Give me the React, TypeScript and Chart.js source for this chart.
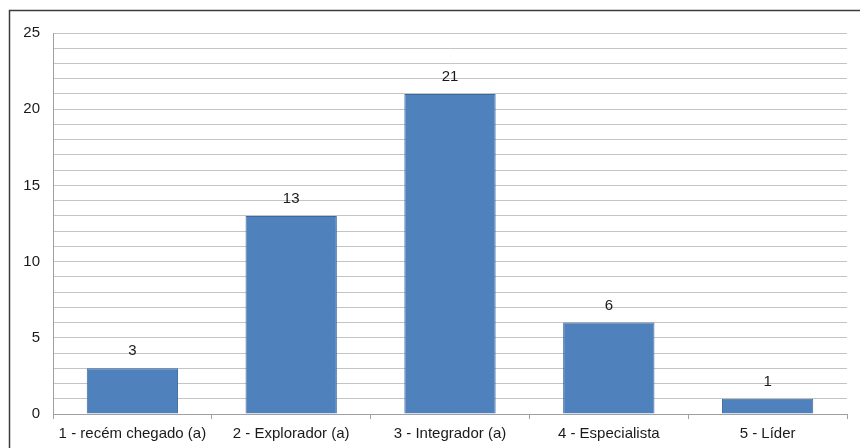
import React, { useEffect, useRef } from "react";
import { Chart, registerables } from "chart.js";

Chart.register(...registerables);

const categories = [
  "1 - recém chegado (a)",
  "2 - Explorador (a)",
  "3 - Integrador (a)",
  "4 - Especialista",
  "5 - Líder",
];
const values = [3, 13, 21, 6, 1];
const yMax = 25;
const majorStep = 5;

const FONT = "'Liberation Sans', Arial, sans-serif";
const TEXT = "#1a1a1a";

const framePlugin = {
  id: "frame",
  beforeDraw(chart: any) {
    const ctx = chart.ctx;
    ctx.save();
    ctx.fillStyle = "#ffffff";
    ctx.fillRect(0, 0, chart.width, chart.height);
    ctx.strokeStyle = "#3c3c3c";
    ctx.lineWidth = 1.5;
    ctx.beginPath();
    ctx.moveTo(9.5, chart.height + 5);
    ctx.lineTo(9.5, 10.5);
    ctx.lineTo(chart.width + 5, 10.5);
    ctx.stroke();
    ctx.restore();
  },
};

const labelPlugin = {
  id: "barLabels",
  afterDatasetsDraw(chart: any) {
    const ctx = chart.ctx;
    const meta = chart.getDatasetMeta(0);
    ctx.save();
    ctx.font = `15px ${FONT}`;
    ctx.fillStyle = TEXT;
    ctx.textAlign = "center";
    ctx.textBaseline = "middle";
    meta.data.forEach((bar: any, i: number) => {
      ctx.fillText(String(values[i]), bar.x, bar.y - 17);
    });
    ctx.restore();
  },
};

export default function App() {
  const ref = useRef<HTMLCanvasElement | null>(null);

  useEffect(() => {
    if (!ref.current) return;
    const chart = new Chart(ref.current, {
      type: "bar",
      data: {
        labels: categories,
        datasets: [
          {
            data: values,
            backgroundColor: "#4f81bd",
            borderColor: "#3d6a9e",
            borderWidth: 1,
            categoryPercentage: 1,
            barPercentage: 0.575,
          },
        ],
      },
      options: {
        responsive: false,
        animation: false,
        layout: { padding: { left: 0, top: 33, right: 13, bottom: 0 } },
        plugins: {
          legend: { display: false },
          tooltip: { enabled: false },
          title: { display: false },
        },
        scales: {
          x: {
            grid: {
              display: true,
              drawOnChartArea: false,
              drawTicks: true,
              tickLength: 5,
              color: "#a0a0a0",
              offset: true,
            },
            border: { display: true, color: "#a0a0a0", width: 1 },
            ticks: {
              color: TEXT,
              font: { family: FONT, size: 15 },
              padding: 6,
              maxRotation: 0,
              autoSkip: false,
            },
            afterFit(scale: any) {
              scale.height = 34;
            },
          },
          y: {
            min: 0,
            max: yMax,
            grid: {
              color: "#c4c4c4",
              lineWidth: 1,
              drawTicks: false,
            },
            border: { display: true, color: "#a0a0a0", width: 1 },
            ticks: {
              stepSize: 1,
              autoSkip: false,
              color: TEXT,
              font: { family: FONT, size: 15 },
              padding: 13,
              callback: (v: any) => (Number(v) % majorStep === 0 ? String(v) : ""),
            },
            afterFit(scale: any) {
              scale.width = 53;
            },
          },
        },
      },
      plugins: [framePlugin, labelPlugin],
    });
    return () => chart.destroy();
  }, []);

  return (
    <div style={{ position: "absolute", left: 0, top: 0, width: 860, height: 448 }}>
      <canvas ref={ref} width={860} height={448} style={{ display: "block" }} />
    </div>
  );
}
